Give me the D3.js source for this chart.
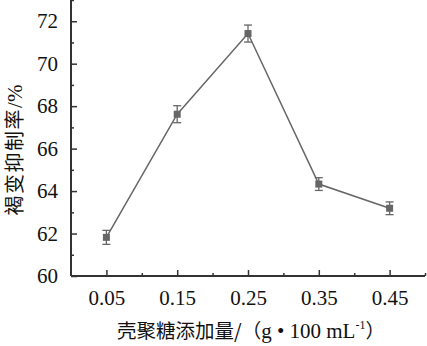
<!DOCTYPE html>
<html><head><meta charset="utf-8">
<script src="https://cdn.jsdelivr.net/npm/d3@7"></script>
<style>body{margin:0;background:#fff}svg{display:block}</style>
</head><body>
<svg id="c" width="427" height="346"></svg>
<script>
const categories = [0.05, 0.15, 0.25, 0.35, 0.45];
const values = [61.82, 67.62, 71.42, 64.33, 63.19];
const errors = [0.33, 0.40, 0.40, 0.30, 0.30];
const yTicks = [60, 62, 64, 66, 68, 70, 72];
const xTickLabels = ["0.05", "0.15", "0.25", "0.35", "0.45"];
const xLabelCjk = "壳聚糖添加量/";
const xLabelUnit = "g • 100 mL";
const yLabelCjk = "褐变抑制率";
const yLabelUnit = "/%";

const svg = d3.select("#c");
const x = d3.scaleLinear().domain([0, 0.5]).range([71, 425]);
const y = d3.scaleLinear().domain([60, 73]).range([276, 0]);
const serif = "'Liberation Serif','Times New Roman',serif";
const cjk = "'Noto Sans CJK SC',sans-serif";
const axisCol = "#333";
const dataCol = "#666";

// Y axis
const ya = svg.append("g").attr("transform", "translate(71,0)");
ya.call(d3.axisLeft(y).tickValues(yTicks).tickSize(-6).tickPadding(13).tickFormat(d3.format("d")));
ya.append("g").call(d3.axisLeft(y).tickValues([61,63,65,67,69,71,73]).tickSize(-3).tickFormat(""));
// X axis
const xa = svg.append("g").attr("transform", "translate(0,276)");
xa.call(d3.axisBottom(x).tickValues(categories).tickSize(-6).tickPadding(14).tickFormat((d,i)=>xTickLabels[i]));
xa.append("g").call(d3.axisBottom(x).tickValues([0.1,0.2,0.3,0.4,0.5]).tickSize(-3).tickFormat(""));
svg.selectAll(".domain").attr("stroke", axisCol).attr("stroke-width", 2);
svg.selectAll(".tick line").attr("stroke", axisCol).attr("stroke-width", 1.5);
svg.selectAll(".tick text").attr("font-family", serif).attr("font-size", 21).attr("fill", "#111");
ya.selectAll(".domain").attr("d", `M0,${y(60)}V0`);
xa.selectAll(".domain").attr("d", `M71,0H425`);

// line
const pts = categories.map((c,i)=>({x:c, v:values[i], e:errors[i]}));
svg.append("path").datum(pts)
  .attr("d", d3.line().x(d=>x(d.x)).y(d=>y(d.v)))
  .attr("fill","none").attr("stroke", dataCol).attr("stroke-width", 1.5);
// error bars
const eb = svg.append("g").attr("stroke", dataCol).attr("stroke-width", 1.3);
pts.forEach(d=>{
  const cx = x(d.x);
  eb.append("line").attr("x1",cx).attr("x2",cx).attr("y1",y(d.v+d.e)).attr("y2",y(d.v-d.e));
  eb.append("line").attr("x1",cx-4).attr("x2",cx+4).attr("y1",y(d.v+d.e)).attr("y2",y(d.v+d.e));
  eb.append("line").attr("x1",cx-4).attr("x2",cx+4).attr("y1",y(d.v-d.e)).attr("y2",y(d.v-d.e));
});
svg.append("g").selectAll("rect").data(pts).join("rect")
  .attr("x", d=>x(d.x)-3.5).attr("y", d=>y(d.v)-3.5).attr("width",7).attr("height",7)
  .attr("fill", dataCol);

// labels
const xl = svg.append("text").attr("x", 251).attr("y", 338).attr("text-anchor","middle")
  .attr("font-size", 19.5).attr("fill","#111").attr("font-family", cjk);
xl.append("tspan").text(xLabelCjk + "（");
xl.append("tspan").attr("font-family", serif).attr("font-size", 21).text(xLabelUnit);
xl.append("tspan").attr("font-family", serif).attr("font-size", 12).attr("dy", -9).text("-1");
xl.append("tspan").attr("dy", 9).text("）");

const yl = svg.append("text").attr("transform","translate(22,150) rotate(-90)").attr("text-anchor","middle")
  .attr("font-size", 20).attr("fill","#111").attr("font-family", cjk);
yl.append("tspan").attr("letter-spacing", 1.5).text(yLabelCjk);
yl.append("tspan").attr("font-family", serif).attr("font-size", 21).text(yLabelUnit);
</script>
</body></html>
